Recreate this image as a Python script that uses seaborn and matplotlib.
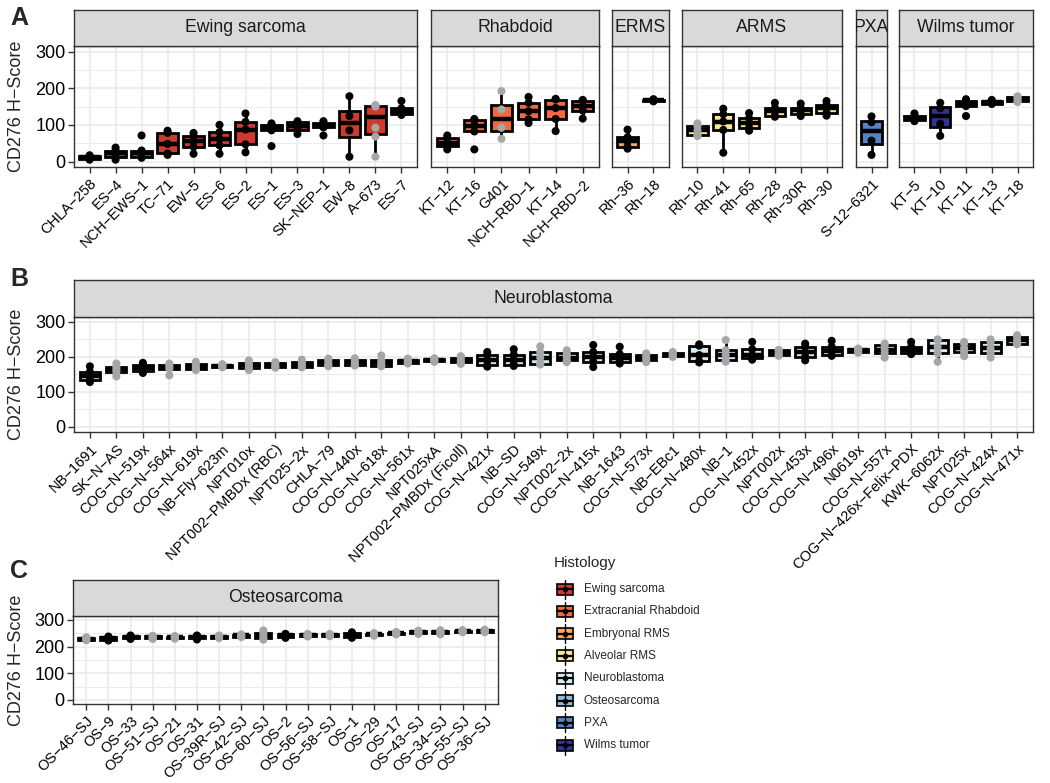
import matplotlib
matplotlib.use("Agg")
import matplotlib.pyplot as plt
from matplotlib.patches import Rectangle
import pandas as pd
import seaborn as sns

# ---------------- data ----------------
histology = ["Ewing sarcoma", "Extracranial Rhabdoid", "Embryonal RMS", "Alveolar RMS",
             "Neuroblastoma", "Osteosarcoma", "PXA", "Wilms tumor"]
histology_colors = ["#d03a2e", "#ef6a43", "#f7a85c", "#fde595",
                    "#d4ecf5", "#92bddc", "#5681c4", "#2f3592"]

ewing_samples = ["CHLA-258", "ES-4", "NCH-EWS-1", "TC-71", "EW-5", "ES-6", "ES-2",
                 "ES-1", "ES-3", "SK-NEP-1", "EW-8", "A-673", "ES-7"]
ewing_scores = [[5, 8, 12, 15, 17], [5, 13, 22, 30, 38], [10, 12, 22, 30, 71],
                [18, 22, 48, 78, 84], [21, 40, 55, 70, 78], [21, 44, 62, 80, 100],
                [25, 47, 87, 108, 131], [42, 85, 92, 100, 104], [75, 87, 96, 107, 110],
                [71, 93, 98, 105, 110], [13, 85, 124, 178], [13, 68, 92, 150, 152, 154],
                [127, 130, 138, 145, 165]]
ewing_grey = [0, 0, 0, 0, 0, 0, 0, 0, 0, 0, 0, 1, 0]

rhabdoid_samples = ["KT-12", "KT-16", "G401", "NCH-RBD-1", "KT-14", "NCH-RBD-2"]
rhabdoid_scores = [[33, 42, 51, 64, 71], [33, 82, 98, 112, 116], [62, 92, 142, 192],
                   [105, 115, 137, 160, 176], [83, 116, 146, 169, 171],
                   [117, 139, 151, 166, 168]]
rhabdoid_grey = [0, 0, 1, 0, 0, 0]

erms_samples = ["Rh-36", "Rh-18"]
erms_scores = [[35, 40, 55, 66, 87], [164, 166, 167, 168, 170]]
erms_grey = [0, 0]

arms_samples = ["Rh-10", "Rh-41", "Rh-65", "Rh-28", "Rh-30R", "Rh-30"]
arms_scores = [[69, 72, 85, 97, 104], [24, 86, 109, 129, 144], [84, 92, 105, 118, 132],
               [122, 124, 137, 146, 160], [124, 130, 140, 146, 158],
               [125, 133, 147, 155, 165]]
arms_grey = [1, 0, 0, 0, 0, 0]

pxa_samples = ["S-12-6321"]
pxa_scores = [[18, 57, 107, 123]]
pxa_grey = [0]

wilms_samples = ["KT-5", "KT-10", "KT-11", "KT-13", "KT-18"]
wilms_scores = [[110, 113, 119, 125, 131], [70, 103, 145, 160], [124, 151, 160, 166, 170],
                [157, 158, 162, 165, 168], [162, 165, 170, 175, 178]]
wilms_grey = [0, 0, 0, 0, 1]

nb_samples = ["NB-1691", "SK-N-AS", "COG-N-519x", "COG-N-564x", "COG-N-619x",
              "NB-Fly-623m", "NPT010x", "NPT002-PMBDx (RBC)", "NPT025-2x", "CHLA-79",
              "COG-N-440x", "COG-N-618x", "COG-N-561x", "NPT025xA",
              "NPT002-PMBDx (Ficoll)", "COG-N-421x", "NB-SD", "COG-N-549x",
              "NPT002-2x", "COG-N-415x", "NB-1643", "COG-N-573x", "NB-EBc1",
              "COG-N-480x", "NB-1", "COG-N-452x", "NPT002x", "COG-N-453x",
              "COG-N-496x", "N0619x", "COG-N-557x", "COG-N-426x-Felix-PDX",
              "KWK-6062x", "NPT025x", "COG-N-424x", "COG-N-471x"]
nb_scores = [[128, 133, 144, 157, 173], [144, 157, 164, 171, 181], [154, 159, 168, 178, 183],
             [147, 166, 172, 178, 181], [162, 166, 172, 179, 186], [170, 172, 175, 178, 179],
             [162, 168, 176, 182, 190], [169, 171, 176, 183, 185], [170, 172, 178, 185, 192],
             [173, 176, 183, 190, 195], [175, 177, 184, 191, 196], [173, 175, 182, 190, 204],
             [181, 183, 187, 192, 195], [186, 188, 191, 194, 196], [180, 184, 190, 198, 202],
             [172, 176, 190, 205, 214], [174, 178, 192, 206, 222], [178, 181, 198, 214, 230],
             [185, 190, 198, 210, 219], [171, 186, 200, 214, 234], [181, 186, 198, 208, 229],
             [185, 192, 198, 205, 210], [200, 202, 205, 210, 214], [184, 188, 205, 232, 236],
             [186, 190, 205, 219, 248], [192, 196, 205, 222, 243], [203, 205, 212, 219, 220],
             [190, 200, 213, 229, 238], [203, 205, 218, 229, 246], [212, 214, 219, 222, 224],
             [198, 210, 220, 234, 238], [208, 210, 220, 229, 243], [186, 210, 229, 248, 250],
             [202, 214, 225, 238, 243], [198, 210, 224, 243, 250], [236, 238, 248, 258, 262]]
nb_grey = [0, 1, 0, 1, 1, 1, 1, 1, 1, 1, 1, 1, 1, 1, 1, 0, 0, 1,
           1, 0, 0, 1, 1, 0, 1, 0, 1, 0, 0, 1, 1, 0, 1, 1, 1, 1]

os_samples = ["OS-46-SJ", "OS-9", "OS-33", "OS-51-SJ", "OS-21", "OS-31", "OS-39R-SJ",
              "OS-42-SJ", "OS-60-SJ", "OS-2", "OS-56-SJ", "OS-58-SJ", "OS-1", "OS-29",
              "OS-17", "OS-43-SJ", "OS-34-SJ", "OS-55-SJ", "OS-36-SJ"]
os_scores = [[224, 226, 229, 233, 235], [223, 226, 231, 235, 238], [229, 231, 235, 239, 242],
             [229, 231, 235, 239, 241], [230, 232, 235, 238, 240], [227, 231, 236, 240, 242],
             [232, 234, 238, 240, 242], [236, 238, 242, 244, 246], [226, 233, 243, 252, 261],
             [233, 236, 242, 246, 248], [238, 240, 243, 246, 248], [239, 241, 243, 246, 248],
             [233, 238, 245, 250, 254], [241, 243, 246, 249, 251], [246, 248, 251, 253, 255],
             [248, 250, 255, 258, 260], [246, 250, 255, 258, 262], [254, 255, 258, 260, 262],
             [254, 256, 259, 262, 264]]
os_grey = [1, 0, 0, 1, 1, 0, 1, 1, 1, 0, 1, 1, 0, 1, 1, 1, 1, 1, 1]

# ---------------- style ----------------
sns.set_style("white")
plt.rcParams["font.family"] = ["Liberation Sans", "DejaVu Sans"]
plt.rcParams["axes.unicode_minus"] = True

W, H = 1050, 783
fig = plt.figure(figsize=(W / 100, H / 100), dpi=100)
fig.patch.set_facecolor("white")
EDGE = "#333333"
GRID = "#EBEBEB"


def add_px_axes(l, t, r, b):
    return fig.add_axes([l / W, 1 - b / H, (r - l) / W, (b - t) / H])


def draw_facet(left, right, strip_top, top, bottom, title, samples, scores, grey,
               fill, first, box_width=0.78):
    rows = [(s, v, "grey" if g else "black")
            for s, vals, g in zip(samples, scores, grey) for v in vals]
    df = pd.DataFrame(rows, columns=["sample", "score", "dot"])
    n = len(samples)

    ax = add_px_axes(left, top, right, bottom)
    sns.boxplot(data=df, x="sample", y="score", order=samples, color=fill,
                saturation=1, width=box_width, linewidth=2.0, linecolor="black",
                showfliers=False, showcaps=False,
                medianprops={"linewidth": 3.2}, ax=ax)
    sns.stripplot(data=df, x="sample", y="score", order=samples, hue="dot",
                  hue_order=["black", "grey"],
                  palette={"black": "black", "grey": "#A6A6A6"},
                  jitter=False, size=5.8, legend=False, ax=ax, zorder=4)

    ax.set_xlim(-0.6, n - 0.4)
    ax.set_ylim(-15, 315)
    ax.set_yticks([0, 100, 200, 300])
    ax.set_yticks([50, 150, 250], minor=True)
    ax.set_xticks(range(n))
    ax.set_xticklabels([s.replace("-", "\u2212") for s in samples], rotation=45,
                       ha="right", va="top", rotation_mode="anchor", fontsize=10.5)
    ax.grid(True, which="major", color=GRID, linewidth=1.2)
    ax.grid(True, which="minor", axis="y", color=GRID, linewidth=0.7)
    ax.set_axisbelow(True)
    ax.tick_params(axis="x", which="major", bottom=True, direction="out", length=4,
                   width=1, color=EDGE, pad=3, labelcolor="black")
    ax.tick_params(axis="y", which="minor", left=False)
    if first:
        ax.tick_params(axis="y", which="major", left=True, direction="out", length=4,
                       width=1, color=EDGE, labelsize=13, pad=2, labelcolor="black")
    else:
        ax.tick_params(axis="y", which="major", left=False, labelleft=False)
    for sp in ax.spines.values():
        sp.set_visible(True)
        sp.set_color(EDGE)
        sp.set_linewidth(1.0)
    ax.set_xlabel("")
    ax.set_ylabel("")

    sax = add_px_axes(left, strip_top, right, top)
    sax.set_facecolor("#D9D9D9")
    sax.set_xticks([])
    sax.set_yticks([])
    for sp in sax.spines.values():
        sp.set_visible(True)
        sp.set_color(EDGE)
        sp.set_linewidth(1.0)
    sax.text(0.5, 0.5, title, ha="center", va="center", fontsize=12.7,
             color="#1A1A1A", transform=sax.transAxes, clip_on=True)
    return ax


col = dict(zip(histology, histology_colors))

# Panel A
a_top, a_strip, a_bottom = 46, 10, 167
draw_facet(74, 417, a_strip, a_top, a_bottom, "Ewing sarcoma", ewing_samples,
           ewing_scores, ewing_grey, col["Ewing sarcoma"], True)
draw_facet(431, 599, a_strip, a_top, a_bottom, "Rhabdoid", rhabdoid_samples,
           rhabdoid_scores, rhabdoid_grey, col["Extracranial Rhabdoid"], False)
draw_facet(612, 669, a_strip, a_top, a_bottom, "ERMS", erms_samples,
           erms_scores, erms_grey, col["Embryonal RMS"], False)
draw_facet(682, 842, a_strip, a_top, a_bottom, "ARMS", arms_samples,
           arms_scores, arms_grey, col["Alveolar RMS"], False)
draw_facet(856, 887, a_strip, a_top, a_bottom, "PXA", pxa_samples,
           pxa_scores, pxa_grey, col["PXA"], False)
draw_facet(899, 1033, a_strip, a_top, a_bottom, "Wilms tumor", wilms_samples,
           wilms_scores, wilms_grey, col["Wilms tumor"], False)

# Panel B
draw_facet(74, 1033, 280, 316.7, 432, "Neuroblastoma", nb_samples, nb_scores,
           nb_grey, col["Neuroblastoma"], True, box_width=0.75)

# Panel C
draw_facet(73, 498, 580, 616, 704, "Osteosarcoma", os_samples, os_scores,
           os_grey, col["Osteosarcoma"], True, box_width=0.72)

# panel letters and axis titles
for letter, y in [("A", 18), ("B", 279), ("C", 571)]:
    fig.text(10 / W, 1 - y / H, letter, fontsize=18, fontweight="bold",
             ha="left", va="center")
for y in [106, 374, 660]:
    fig.text(17 / W, 1 - y / H, "CD276 H\u2212Score", rotation=90, fontsize=13,
             ha="center", va="center")

# legend
lax = add_px_axes(540, 550, 760, 760)
lax.set_xlim(540, 760)
lax.set_ylim(760, 550)
lax.axis("off")
lax.text(554, 563, "Histology", fontsize=11, ha="left", va="center")
for i, (name, c) in enumerate(zip(histology, histology_colors)):
    y = 589 + 22.3 * i
    lax.plot([565, 565], [y - 9.5, y + 9.5], color="black", lw=1.0)
    lax.add_patch(Rectangle((557, y - 5.5), 16, 11, facecolor=c, edgecolor="black", lw=1.2))
    lax.plot([557, 573], [y, y], color="black", lw=1.6)
    lax.scatter([565], [y], s=9, color="black", zorder=5)
    lax.text(584, y, name, fontsize=8.5, ha="left", va="center")

fig.savefig("out.png", dpi=100, facecolor="white")
